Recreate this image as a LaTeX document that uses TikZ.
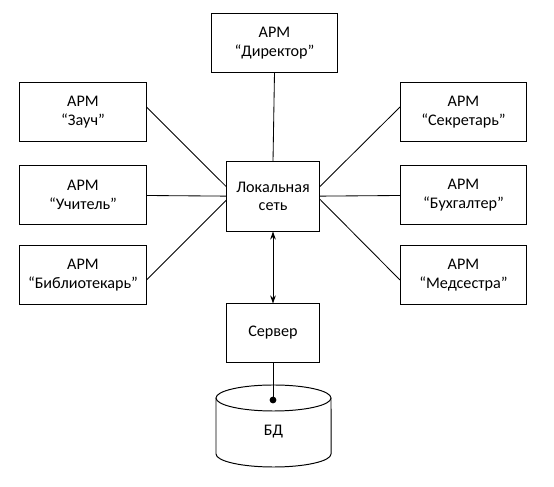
\documentclass[tikz,border=0pt]{standalone}
\usepackage{fontspec}
\setmainfont{Carlito}
\usetikzlibrary{arrows.meta}

\begin{document}
\begin{tikzpicture}[x=0.025cm, y=0.025cm,
		arm/.style={draw, line width=0.7pt, minimum width=3.15cm, minimum height=1.45cm, inner sep=0pt, align=center, font=\fontsize{11.5}{13.3}\selectfont},
		hub/.style={draw, line width=0.7pt, minimum width=2.3cm, inner sep=0pt, align=center, font=\fontsize{11.5}{13.3}\selectfont},
		link/.style={line width=0.6pt},
		tip/.style={line width=0.7pt, {Stealth[length=0.2cm, width=0.14cm]}-{Stealth[length=0.2cm, width=0.14cm]}}]
		%%%%% START %%%%%
		
		\useasboundingbox (0, 0) rectangle (554, 487);
		
		\node[arm] (dir) at (274.5, 444) {АРМ\\“Директор”};
		
		\node[arm] (zauch) at (83, 375) {АРМ\\“Зауч”};
		\node[arm] (uchitel) at (83, 292) {АРМ\\“Учитель”};
		\node[arm] (bibl) at (83, 212) {АРМ\\“Библиотекарь”};
		
		\node[arm] (sekr) at (463.5, 375) {АРМ\\“Секретарь”};
		\node[arm] (buh) at (463.5, 292) {АРМ\\“Бухгалтер”};
		\node[arm] (med) at (463.5, 212) {АРМ\\“Медсестра”};
		
		\node[hub, minimum height=1.725cm] (lan) at (273, 290.5) {Локальная\\сеть};
		\node[hub, minimum height=1.45cm] (server) at (273, 154) {Сервер};
		
		% lines to the network
		\draw[link] (dir.south) -- (lan.north);
		\draw[link] ([yshift=0.125cm]zauch.east) -- ([yshift=0.24cm]lan.west);
		\draw[link] (uchitel) -- (lan);
		\draw[link] ([yshift=-0.125cm]bibl.east) -- ([yshift=-0.09cm]lan.west);
		\draw[link] ([yshift=0.125cm]sekr.west) -- ([yshift=0.24cm]lan.east);
		\draw[link] (buh) -- (lan);
		\draw[link] ([yshift=-0.125cm]med.west) -- ([yshift=-0.06cm]lan.east);
		
		\draw[tip] (lan.south) -- (server.north);
		
		% database
		\draw[line width=0.7pt] (273.5, 89) ellipse (1.4375cm and 0.325cm);
		\draw[line width=0.7pt] (216, 89) -- (216, 33) arc (180:360:1.4375cm and 0.325cm) -- (331, 89);
		\node[font=\fontsize{11.5}{13.3}\selectfont] (db) at (273.5, 55) {БД};
		\coordinate (dbdot) at (273, 87);
		
		\draw[link] (server.south) -- (dbdot);
		\fill (dbdot) circle (0.085cm);
		
		%%%%% END %%%%%
	\end{tikzpicture}
\end{document}
